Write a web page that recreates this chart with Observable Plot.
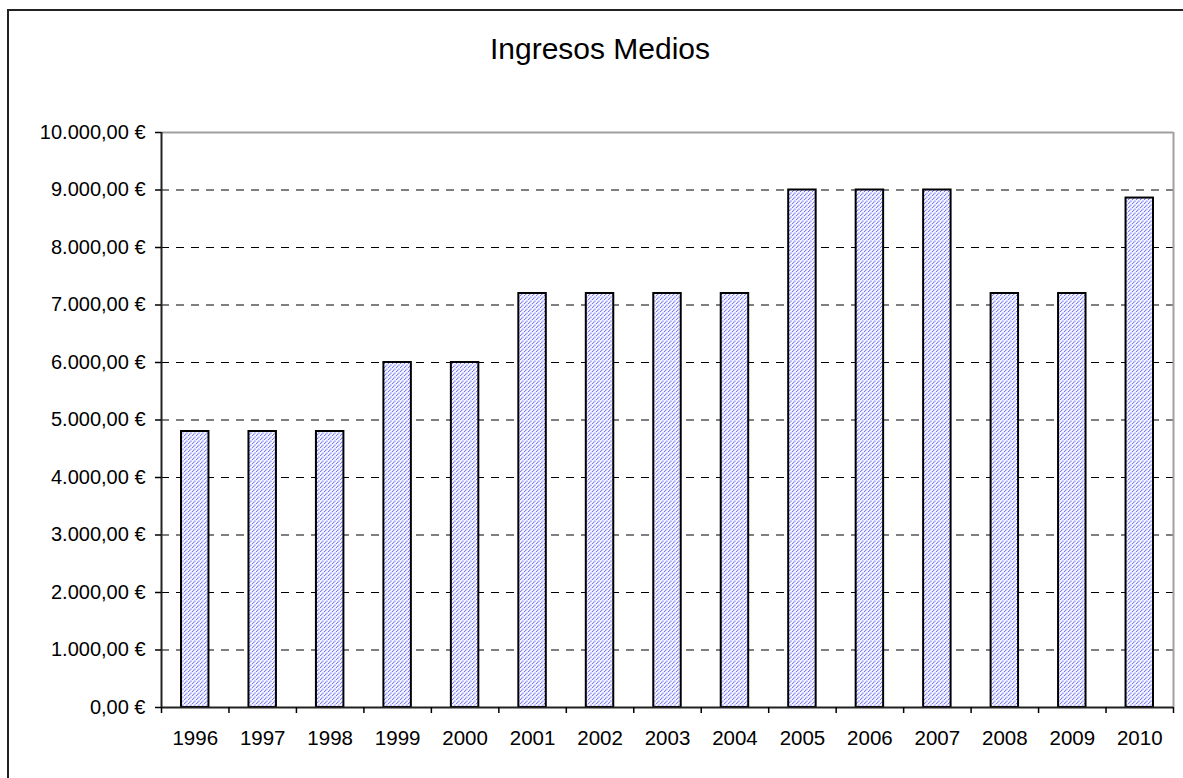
<!DOCTYPE html>
<html>
<head>
<meta charset="utf-8">
<script src="https://cdn.jsdelivr.net/npm/d3@7"></script>
<script src="https://cdn.jsdelivr.net/npm/@observablehq/plot@0.6"></script>
<style>
  html, body { margin: 0; padding: 0; background: #fff; overflow: hidden; width: 1183px; height: 778px; }
  #frame { position: absolute; left: 7px; top: 9px; width: 1200px; height: 800px; border: 2px solid #222; box-sizing: border-box; }
  #title { position: absolute; left: 0; top: 34px; width: 1200px; text-align: center; font-family: "Liberation Sans", Arial, sans-serif; font-size: 30px; line-height: 30px; color: #000; }
  #chart { position: absolute; left: 0; top: 0; }
</style>
</head>
<body>
<div id="frame"></div>
<div id="title">Ingresos Medios</div>
<div id="chart"></div>
<script>
const years = [1996, 1997, 1998, 1999, 2000, 2001, 2002, 2003, 2004, 2005, 2006, 2007, 2008, 2009, 2010];
const values = [4800, 4800, 4800, 6000, 6000, 7200, 7200, 7200, 7200, 9000, 9000, 9000, 7200, 7200, 8860];
const yTicks = [0, 1000, 2000, 3000, 4000, 5000, 6000, 7000, 8000, 9000, 10000];
const gridValues = [1000, 2000, 3000, 4000, 5000, 6000, 7000, 8000, 9000];

const data = years.map((year, i) => ({year, value: values[i]}));
const boundaries = years.map(y => y - 0.5).concat([years[years.length - 1] + 0.5]);
const xMin = years[0] - 0.5, xMax = years[years.length - 1] + 0.5;

const locale = d3.formatLocale({decimal: ",", thousands: ".", grouping: [3], currency: ["", " €"]});
const fmt = locale.format(",.2f");
const yFormat = d => fmt(d) + " €";

const svg = Plot.plot({
  width: 1183,
  height: 778,
  marginLeft: 161,
  marginRight: 10,
  marginTop: 132,
  marginBottom: 71,
  style: {fontFamily: "'Liberation Sans', Arial, sans-serif", fontSize: "20px", color: "#000", background: "transparent", overflow: "visible"},
  x: {type: "linear", domain: [xMin, xMax], label: null},
  y: {domain: [0, 10000], label: null},
  marks: [
    Plot.ruleY(gridValues, {stroke: "#000", strokeWidth: 1.2, strokeDasharray: "8,7"}),
    Plot.rect(data, {x1: d => d.year - 0.5, x2: d => d.year + 0.5, y1: 0, y2: "value", insetLeft: 20, insetRight: 20, fill: "url(#hatch)", stroke: "#000", strokeWidth: 2}),
    Plot.ruleY([10000], {stroke: "#a0a0a0", strokeWidth: 2}),
    Plot.ruleX([xMax], {stroke: "#a0a0a0", strokeWidth: 2}),
    Plot.ruleX([xMin], {stroke: "#222", strokeWidth: 2}),
    Plot.ruleY([0], {stroke: "#222", strokeWidth: 2}),
    Plot.axisY({ticks: yTicks, tickSize: 6, tickPadding: 10, tickFormat: yFormat, fontSize: 20, label: null, stroke: "#000", strokeWidth: 1.5, strokeOpacity: 1}),
    Plot.axisX({ticks: boundaries, tickSize: 6, tickFormat: () => "", label: null, stroke: "#000", strokeWidth: 1.5, strokeOpacity: 1}),
    Plot.axisX({ticks: years, tickSize: 0, tickPadding: 23, tickFormat: d => String(d), label: null, fontSize: 20.5})
  ]
});

const defs = d3.select(svg).insert("defs", ":first-child");
const pat = defs.append("pattern")
  .attr("id", "hatch")
  .attr("patternUnits", "userSpaceOnUse")
  .attr("width", 4)
  .attr("height", 4);
pat.append("rect").attr("width", 4).attr("height", 4).attr("fill", "#fff");
pat.append("path")
  .attr("d", "M-1,1 L1,-1 M0,4 L4,0 M3,5 L5,3")
  .attr("stroke", "#6a6aff")
  .attr("stroke-width", 1.3)
  .attr("stroke-dasharray", "1.2,0.6");

document.getElementById("chart").appendChild(svg);
</script>
</body>
</html>
